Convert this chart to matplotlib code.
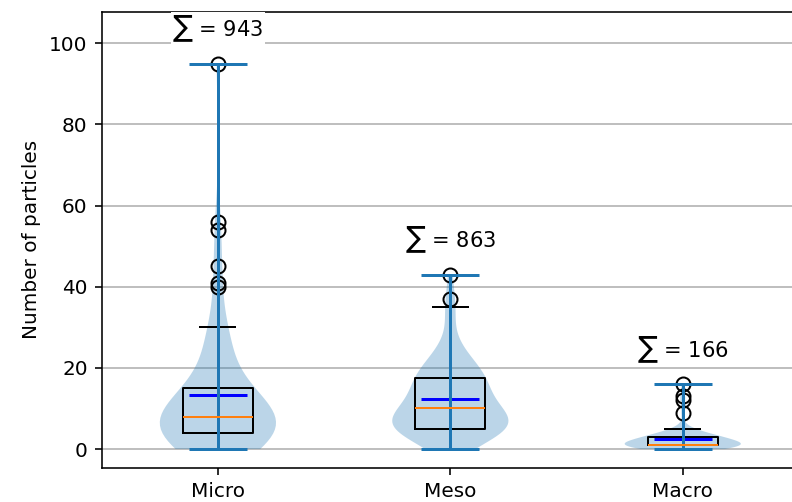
import matplotlib
matplotlib.use("Agg")
import matplotlib.pyplot as plt
import numpy as np

# Particle counts per sample, grouped by size class
categories = ["Micro", "Meso", "Macro"]

micro_counts = [
    0, 0, 0, 1, 1, 1, 2, 2, 2, 2, 3, 3, 3, 3, 3, 4, 4, 4, 4, 4, 4,
    5, 5, 5, 5, 6, 6, 6, 6, 7, 7, 7, 7, 7, 8, 8, 8, 8,
    9, 9, 9, 10, 10, 10, 11, 11, 12, 12, 13, 13, 14, 14, 15, 15, 15,
    18, 20, 22, 24, 25, 26, 27, 28, 29, 30,
    40, 41, 45, 54, 56, 95,
]

meso_counts = [
    0, 0, 1, 2, 2, 3, 3, 4, 4, 4,
    5, 5, 5, 5, 5, 5, 5, 5, 5, 6, 6, 6,
    7, 7, 7, 7, 8, 8, 8, 8, 9, 9, 9, 9, 10, 10, 10,
    11, 11, 12, 12, 13, 13, 14, 14, 15, 15, 16, 16, 16, 16, 16,
    18, 18, 18, 19, 19, 20, 20, 20, 21, 22, 23, 24, 25, 27, 32, 35,
    37, 43,
]

macro_counts = (
    [0] * 10 + [1] * 27 + [2] * 8 + [3] * 14 + [4] * 4 + [5] * 3
    + [9, 12, 13, 16]
)

data = [micro_counts, meso_counts, macro_counts]
positions = [1, 2, 3]

DPI = 144
fig = plt.figure(figsize=(792 / DPI, 502 / DPI), dpi=DPI)
ax = fig.add_axes([0.1284, 0.0683, 0.8804, 0.9084])

ax.yaxis.grid(True, color="#b0b0b0", linewidth=0.8)
ax.set_axisbelow(True)

ax.boxplot(data, positions=positions, widths=0.3,
           flierprops=dict(marker="o", markerfacecolor="none",
                           markeredgecolor="black", markersize=7))

parts = ax.violinplot(data, positions=positions, showmeans=True)
parts["cmeans"].set_color("blue")

# total count above each group
for pos, vals in zip(positions, data):
    ax.text(pos, max(vals) + 8.5, r"$\sum$ = %d" % sum(vals),
            ha="center", va="center", fontsize=10.5,
            bbox=dict(facecolor="white", edgecolor="none", pad=0.8))

ax.set_xticks(positions)
ax.set_xticklabels(categories)
ax.set_xlim(0.5, 3.5)
ax.set_ylim(-4.6, 107.8)
ax.set_ylabel("Number of particles")

fig.savefig("out.png", dpi=DPI)
